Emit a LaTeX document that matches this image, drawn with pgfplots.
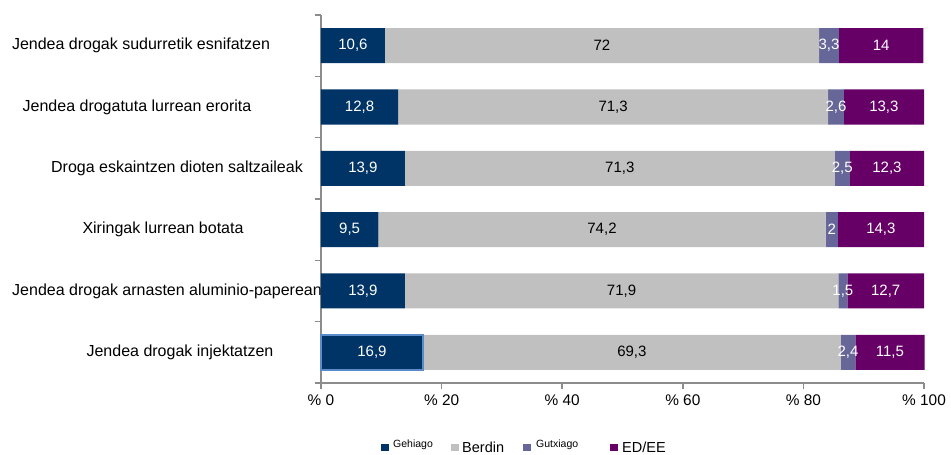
\documentclass[border=0pt]{standalone}
\usepackage{pgfplots}
\pgfplotsset{compat=1.18}
\usepackage{pgfplotstable}
\usepackage{fontspec}
\setmainfont{Liberation Sans}
\definecolor{cA}{HTML}{003366}
\definecolor{cB}{HTML}{C0C0C0}
\definecolor{cC}{HTML}{666699}
\definecolor{cD}{HTML}{660066}
\definecolor{axg}{HTML}{8C8C8C}
\definecolor{hl}{HTML}{5B8BC8}
\newcommand\lb[2]{\hspace*{#1}#2\hspace*{-#1}}
\pgfplotstableread{
y  a    b    c    d
5  10.6 72   3.3  14
4  12.8 71.3 2.6  13.3
3  13.9 71.3 2.5  12.3
2  9.5  74.2 2    14.3
1  13.9 71.9 1.5  12.7
0  16.9 69.3 2.4  11.5
}\datatable
\pgfplotsset{
  base/.style={
    at={(321pt,72pt)}, anchor=south west,
    scale only axis, width=603pt, height=368pt,
    xmin=0, xmax=100, ymin=-0.5, ymax=5.5,
    enlargelimits=false, clip=false,
    /pgf/number format/use comma,
    /pgf/number format/assume math mode=true,
  },
  lbl/.style={
    nodes near coords={\pgfmathprintnumber{\pgfplotspointmeta}},
    point meta=rawx,
    nodes near coords align={center},
    every node near coord/.style={anchor=center, font=\fontsize{15}{18}\selectfont, text=#1, inner sep=0pt},
  },
}
\begin{document}
\begin{tikzpicture}[x=1pt,y=1pt]
\useasboundingbox (0,0) rectangle (951,455);
\begin{axis}[base, xbar stacked, bar width=35pt,
  axis x line*=bottom, axis y line*=left,
  axis line style={draw=axg, line width=1.5pt},
  tick align=outside,
  major tick length=6pt,
  tick style={draw=axg, line width=1.5pt},
  xtick={0,20,...,100},
  xticklabels={\% 0,\% 20,\% 40,\% 60,\% 80,\% 100},
  x tick label style={font=\fontsize{15.4}{18}\selectfont, yshift=-2pt},
  ytick={-0.5,0.5,1.5,2.5,3.5,4.5,5.5},
  yticklabels={},
  extra y ticks={0,1,2,3,4,5},
  extra y tick labels={
    \lb{20pt}{Jendea drogak injektatzen},
    \lb{7pt}{Jendea drogak arnasten aluminio-paperean},
    \lb{3pt}{Xiringak lurrean botata},
    \lb{17pt}{Droga eskaintzen dioten saltzaileak},
    \lb{-23pt}{Jendea drogatuta lurrean erorita},
    \lb{-19pt}{Jendea drogak sudurretik esnifatzen}},
  extra y tick style={major tick length=0pt, tick style={draw=none},
    yticklabel style={anchor=center, xshift=-161pt, font=\fontsize{16}{19}\selectfont}},
  legend columns=4,
  legend image code/.code={\fill[#1] (0pt,1pt) rectangle (8pt,8.5pt);},
  legend style={at={(axis description cs:0.0995,-0.1929)}, anchor=south west,
    draw=none, fill=none, inner sep=0pt, column sep=0pt, row sep=0pt,
    cells={anchor=base west}, nodes={inner sep=0pt},
    /tikz/every even column/.append style={column sep=0pt}},
]
\addplot[fill=cA, draw=none, lbl=white] table[x=a, y=y] {\datatable};
\addlegendentry{\makebox[62pt][l]{\hspace{4pt}\raisebox{4.5pt}{\fontsize{10.5}{12}\selectfont Gehiago}}}
\addplot[fill=cB, draw=none, lbl=black] table[x=b, y=y] {\datatable};
\addlegendentry{\makebox[64pt][l]{\hspace{3pt}\fontsize{14.5}{17}\selectfont Berdin}}
\addplot[fill=cC, draw=none, lbl=white] table[x=c, y=y] {\datatable};
\addlegendentry{\makebox[79pt][l]{\hspace{5pt}\raisebox{4.5pt}{\fontsize{10.5}{12}\selectfont Gutxiago}}}
\addplot[fill=cD, draw=none, lbl=white] table[x=d, y=y] {\datatable};
\addlegendentry{\makebox[51pt][l]{\hspace{4pt}\fontsize{14.5}{17}\selectfont ED/EE}}
\end{axis}
\begin{axis}[base, hide axis, xbar stacked, bar width=35pt]
\addplot[fill=cA, draw=hl, line width=1.5pt, lbl=white] coordinates {(16.9,0)};
\end{axis}
\end{tikzpicture}
\end{document}
